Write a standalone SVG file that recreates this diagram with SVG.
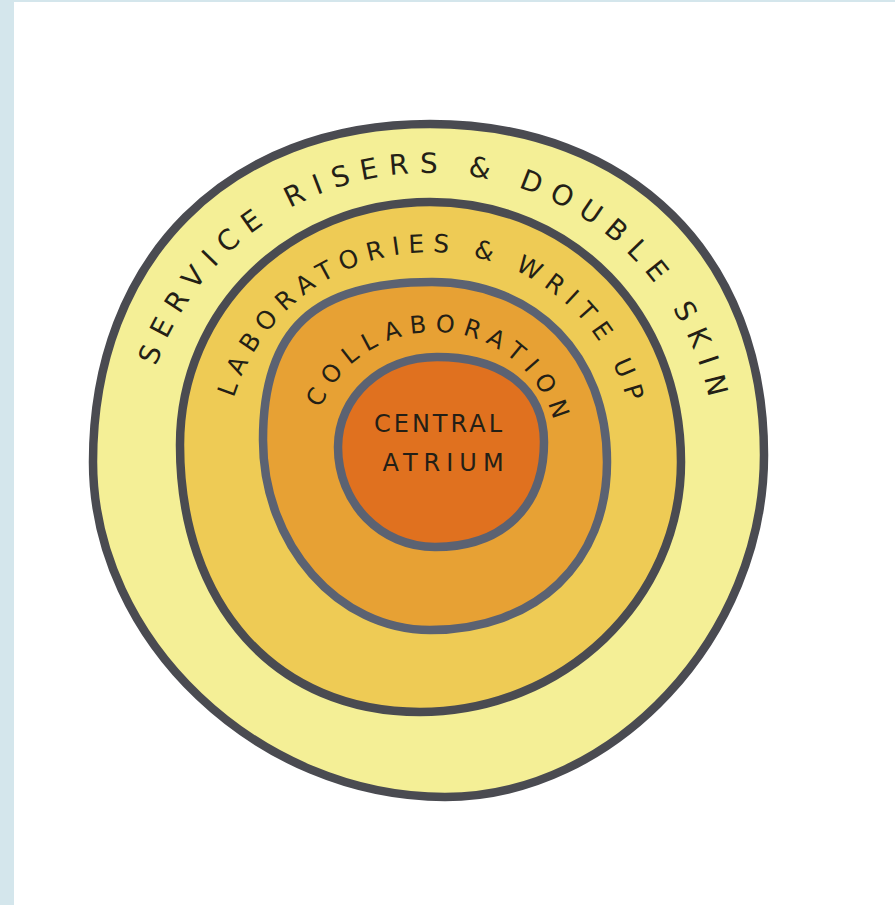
<svg xmlns="http://www.w3.org/2000/svg" width="895" height="905" viewBox="0 0 895 905">
  <style>
    .ring { stroke-width: 8.5; stroke-linejoin: round; }
    .dark { stroke: #4a4b51; }
    .blue { stroke: #5b6272; }
    .lbl { font-family: "DejaVu Sans", "Liberation Sans", sans-serif; fill: #241f16; }
  </style>
  <defs>
    <path id="arcOuter" d="M156.0,366.3 A288,288 0 0 1 714.9,435.9"/>
    <path id="arcLab" d="M233.7,398.1 A205,205 0 0 1 634.2,439.1"/>
    <path id="arcCol" d="M320.4,408.5 A124,124 0 0 1 558.5,445.2"/>
  </defs>
  <rect x="0" y="0" width="895" height="905" fill="#ffffff"/>
  <rect x="0" y="0" width="14" height="905" fill="#d4e6ec"/>
  <rect x="0" y="0" width="895" height="2" fill="#d4e6ec"/>

  <g id="service-risers">
    <path class="ring dark" fill="#f4ef96" d="M93,462 C93,259 228,124 430,124 C630,124 764,256 764,455 C764,636 614,797 445,797 C258,797 93,640 93,462 Z"/>
    <text class="lbl" font-size="28" letter-spacing="10.6"><textPath href="#arcOuter">SERVICE RISERS &amp; DOUBLE SKIN</textPath></text>
  </g>

  <g id="laboratories">
    <path class="ring dark" fill="#eecb55" d="M180,445 C180,309 290,202 430,202 C573,202 681,314 681,462 C681,599.5 563.6,712 420,712 C276,712 180,605 180,445 Z"/>
    <text class="lbl" font-size="25" letter-spacing="8.15"><textPath href="#arcLab">LABORATORIES &amp; WRITE UP</textPath></text>
  </g>

  <g id="collaboration">
    <path class="ring blue" fill="#e7a134" d="M263,440 C263,329.4 313.7,282 432,282 C535.3,282 607,355.8 607,462 C607,562.8 536.2,630 430,630 C338,630 263,544.5 263,440 Z"/>
    <text class="lbl" font-size="24" letter-spacing="8.4"><textPath href="#arcCol">COLLABORATION</textPath></text>
  </g>

  <g id="central-atrium">
    <path class="ring blue" fill="#e0711f" d="M338,447 C338,396.6 381.6,357 437,357 C503.3,357 544,389.3 544,442 C544,507 502.6,547 435,547 C380.7,547 338,503 338,447 Z"/>
    <text class="lbl" font-size="24" letter-spacing="3" x="439.5" y="432" text-anchor="middle">CENTRAL</text>
    <text class="lbl" font-size="24" letter-spacing="6" x="446" y="471" text-anchor="middle">ATRIUM</text>
  </g>
</svg>
